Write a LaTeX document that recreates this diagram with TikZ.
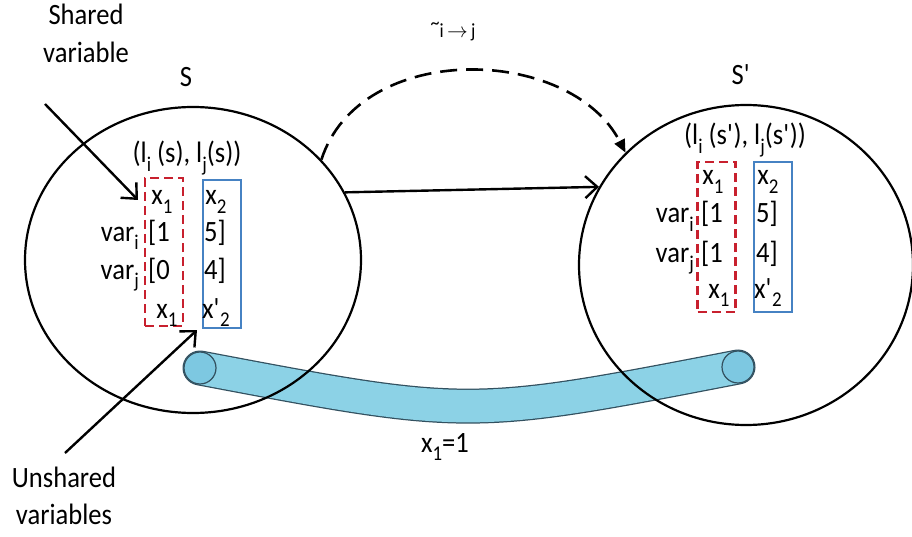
\documentclass[tikz,border=0pt]{standalone}
\usepackage{fontspec}
\setmainfont{Carlito}[FakeStretch=0.9]
\usetikzlibrary{shapes.geometric,arrows.meta}
\definecolor{rbox}{RGB}{200,32,46}
\definecolor{bbox}{RGB}{70,130,195}
\definecolor{tubefill}{RGB}{140,210,230}
\definecolor{capfill}{RGB}{125,200,225}
\definecolor{tubeedge}{RGB}{50,80,95}
\newcommand\sbs[1]{\raisebox{-0.28em}{\fontsize{21}{22}\selectfont #1}}
\newcommand\pr{\textquotesingle}
\tikzset{
  txt/.style={inner sep=0pt, anchor=base, font=\fontsize{29.5}{34}\selectfont, text=black},
  small/.style={inner sep=0pt, anchor=base, font=\fontsize{20}{22}\selectfont},
  stateell/.style={ellipse, draw, line width=2.2pt, inner sep=0pt},
  redbox/.style={draw=rbox, line width=2.6pt, dash pattern=on 9pt off 5pt, inner sep=0pt, minimum width=38pt},
  bluebox/.style={draw=bbox, line width=2.4pt, inner sep=0pt, minimum width=38pt},
  openarr/.style={line width=2.4pt, -{Straight Barb[length=12pt,width=22pt,line width=2.4pt]}},
  dasharr/.style={line width=2.6pt, dash pattern=on 17pt off 9pt, -{Triangle[length=13pt,width=11pt]}},
  capc/.style={circle, draw=tubeedge, line width=1.2pt, fill=capfill, minimum size=32pt, inner sep=0pt}
}
\begin{document}
\begin{tikzpicture}[x=1pt,y=-1pt]
\useasboundingbox (0,0) rectangle (912,537);
% tube
\coordinate (cL) at (200,368);
\coordinate (cR) at (738,367);
\draw[line width=35pt, tubeedge, line cap=round] (cL) .. controls (469,419) .. (cR);
\draw[line width=32.5pt, tubefill, line cap=round] (cL) .. controls (469,419) .. (cR);
\node[capc] (capL) at (cL) {};
\node[capc] (capR) at (cR) {};
% states
\node[stateell, minimum width=336pt, minimum height=306pt] (S) at (193,260) {};
\node[stateell, minimum width=334pt, minimum height=320pt] (Sp) at (746,265) {};
% labels
\node[txt] (lS) at (186,87) {S};
\node[txt] (lSp) at (741,85) {S\pr};
\node[txt] (shared) at (86,25) {Shared};
\node[txt] (shared2) at (86,63) {variable};
\node[txt] (unsh) at (64,487) {Unshared};
\node[txt] (unsh2) at (64,524) {variables};
\node[small] (rel) at (453,38) {\raisebox{0.42em}{\textasciitilde}i\,$\rightarrow$\,j};
\node[txt] (eq) at (445,452) {x\sbs{1}=1};
% left state content
\node[txt] (hL) at (187,163) {(l\sbs{i} (s), l\sbs{j}(s))};
\node[redbox, minimum height=148pt] (rbL) at (164,252) {};
\node[bluebox, minimum height=148pt] (bbL) at (222,254) {};
\node[txt] (a1) at (162,205) {x\sbs{1}};
\node[txt] (a2) at (159,241) {[1};
\node[txt] (a3) at (159,279) {[0};
\node[txt] (a4) at (167,318) {x\sbs{1}};
\node[txt] (b1) at (216,205) {x\sbs{2}};
\node[txt] (b2) at (215,241) {5]};
\node[txt] (b3) at (215,279) {4]};
\node[txt] (b4) at (216,318) {x\pr\sbs{2}};
\node[txt, anchor=base east] (vi) at (139,241) {var\sbs{i}};
\node[txt, anchor=base east] (vj) at (139,279) {var\sbs{j}};
% right state content
\node[txt] (hR) at (745,145) {(l\sbs{i} (s\pr), l\sbs{j}(s\pr))};
\node[redbox, minimum height=150pt] (rbR) at (716.5,237) {};
\node[bluebox, minimum height=150pt] (bbR) at (773,237) {};
\node[txt] (c1) at (713,185) {x\sbs{1}};
\node[txt] (c2) at (712,223) {[1};
\node[txt] (c3) at (712,262) {[1};
\node[txt] (c4) at (719,298) {x\sbs{1}};
\node[txt] (d1) at (768,185) {x\sbs{2}};
\node[txt] (d2) at (767,223) {5]};
\node[txt] (d3) at (767,262) {4]};
\node[txt] (d4) at (768,298) {x\pr\sbs{2}};
\node[txt, anchor=base east] (vi2) at (694,223) {var\sbs{i}};
\node[txt, anchor=base east] (vj2) at (694,262) {var\sbs{j}};
% connectors
\draw[openarr] (S.24.4) -- (Sp.152.2);
\draw[dasharr] (S.38) .. controls (360,40) and (570,45) .. (Sp.137);
\coordinate (shStart) at (45,104);
\coordinate (shEnd) at (138,200);
\draw[openarr] (shStart) -- (shEnd);
\coordinate (unStart) at (65,453);
\coordinate (unEnd) at (197,330);
\draw[openarr] (unStart) -- (unEnd);
\end{tikzpicture}
\end{document}
